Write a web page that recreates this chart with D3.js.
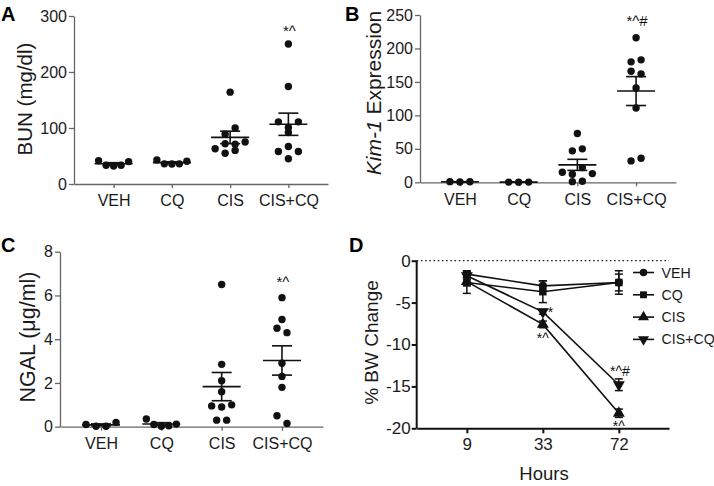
<!DOCTYPE html>
<html><head><meta charset="utf-8">
<script src="https://cdn.jsdelivr.net/npm/d3@7"></script>
<style>
body{margin:0;background:#fff}
svg{display:block}
text{font-family:"Liberation Sans",Arial,Helvetica,sans-serif}
</style>
</head><body>
<svg id="c" width="714" height="486"></svg>
<script>
// ---------- data ----------
const groups = ["VEH", "CQ", "CIS", "CIS+CQ"];

// A: BUN (mg/dl)
const bunVEH   = [41.6, 33.4, 32, 33.4, 40];
const bunCQ    = [43, 36, 35.7, 36, 40.5];
const bunCIS   = [164, 89, 100, 63, 72, 71, 75, 55, 60];
const bunCISCQ = [250, 174, 111, 101, 111, 92, 58, 67, 58, 45];
const bunTicks = [0, 100, 200, 300];

// B: Kim-1 expression
const kimVEH   = [1, 0.5, 0.8];
const kimCQ    = [0.3, 0.2, 0.3];
const kimCIS   = [73, 47, 50, 15, 12, 22, 13, 1, 1.5];
const kimCISCQ = [216, 180, 183, 166, 162, 141, 111, 32, 36];
const kimTicks = [0, 50, 100, 150, 200, 250];

// C: NGAL (µg/ml)
const ngalVEH   = [0.1, 0.02, 0.02, 0.2];
const ngalCQ    = [0.35, 0.1, 0.02, 0.04, 0.12];
const ngalCIS   = [6.5, 2.85, 2.1, 1.6, 0.95, 0.9, 1.0, 0.3, 0.3];
const ngalCISCQ = [5.9, 4.9, 4.5, 4.3, 2.9, 2.3, 1.8, 0.5, 0.15];
const ngalTicks = [0, 2, 4, 6, 8];

// D: % BW change over hours
const hours = ["9", "33", "72"];
const bwVEH      = [-1.6, -3.0, -2.6];
const bwVEHsem   = [0.4, 0.6, 1.0];
const bwCQ       = [-2.6, -3.7, -2.6];
const bwCQsem    = [1.3, 1.3, 1.4];
const bwCIS      = [-2.5, -7.6, -18.2];
const bwCISsem   = [0.5, 0.4, 0.5];
const bwCISCQ    = [-1.8, -6.1, -14.8];
const bwCISCQsem = [0.4, 0.3, 0.7];
const bwTicks = [0, -5, -10, -15, -20];

// ---------- drawing ----------
const FONT = '"Liberation Sans",Arial,Helvetica,sans-serif';
const svg = d3.select("#c");
const ink = "#111";

function swarm(values, y) {
  const items = values.map((v, i) => ({v, i, y: y(v)})).sort((a, b) => a.y - b.y);
  const rows = [];
  let cur = null;
  for (const it of items) {
    if (!cur || it.y - cur[0].y > 8) { cur = [it]; rows.push(cur); }
    else cur.push(it);
  }
  rows.forEach(r => {
    r.sort((a, b) => a.i - b.i);
    const k = r.length;
    const sp = k > 1 ? Math.min(10, 30 / (k - 1)) : 0;
    r.forEach((it, j) => it.dx = (j - (k - 1) / 2) * sp);
  });
  return items;
}

function styleAxis(g, color, width, fs) {
  g.attr("font-family", FONT).attr("font-size", fs).attr("color", color);
  g.selectAll("path.domain").attr("stroke-width", width);
  g.selectAll(".tick line").attr("stroke-width", width);
  g.selectAll(".tick text").attr("fill", "#1a1a1a");
}

function scatterPanel(o) {
  const g = svg.append("g");
  const x = d3.scalePoint().domain(groups).range([o.x0, o.x1]).padding(0.68);
  const y = d3.scaleLinear().domain([0, o.max]).range([o.yb, o.yt]);

  const ya = g.append("g").attr("transform", `translate(${o.x0},0)`)
    .call(d3.axisLeft(y).tickValues(o.ticks).tickSize(5).tickPadding(2).tickSizeOuter(0));
  styleAxis(ya, "#666", 1.3, 16);
  const xa = g.append("g").attr("transform", `translate(0,${o.yb})`)
    .call(d3.axisBottom(x).tickSize(4).tickPadding(7).tickSizeOuter(0));
  styleAxis(xa, "#666", 1.3, 16);

  o.series.forEach((vals, i) => {
    const cx = x(groups[i]);
    const pts = swarm(vals, y);
    g.append("g").selectAll("circle").data(pts).join("circle")
      .attr("cx", d => cx + d.dx).attr("cy", d => d.y).attr("r", 3.7).attr("fill", ink);
    const m = d3.mean(vals);
    const sem = d3.deviation(vals) / Math.sqrt(vals.length);
    const eg = g.append("g").attr("stroke", ink).attr("stroke-width", 1.6).attr("fill", "none");
    eg.append("line").attr("x1", cx - 19).attr("x2", cx + 19).attr("y1", y(m)).attr("y2", y(m));
    eg.append("line").attr("x1", cx).attr("x2", cx).attr("y1", y(m - sem)).attr("y2", y(m + sem));
    [m - sem, m + sem].forEach(v => eg.append("line")
      .attr("x1", cx - 10).attr("x2", cx + 10).attr("y1", y(v)).attr("y2", y(v)));
  });

  g.append("text").attr("x", x(groups[3]) + 1).attr("y", o.annY)
    .attr("text-anchor", "middle").attr("font-size", 15).attr("fill", ink).text(o.ann);

  const t = g.append("text").attr("transform", `translate(${o.tx},${o.ty}) rotate(-90)`)
    .attr("text-anchor", "middle").attr("font-size", o.tfs).attr("fill", "#1a1a1a");
  o.title(t);

  svg.append("text").attr("x", o.lx).attr("y", o.ly).attr("font-size", 20)
    .attr("font-weight", "bold").attr("fill", "#000").text(o.letter);
}

scatterPanel({
  x0: 74, x1: 328, yt: 16, yb: 184, max: 300, ticks: bunTicks,
  series: [bunVEH, bunCQ, bunCIS, bunCISCQ],
  ann: "*^", annY: 36,
  tx: 32, ty: 99, tfs: 20.5, title: t => t.text("BUN (mg/dl)"),
  letter: "A", lx: 1, ly: 21
});
scatterPanel({
  x0: 420, x1: 676, yt: 15, yb: 182.3, max: 250, ticks: kimTicks,
  series: [kimVEH, kimCQ, kimCIS, kimCISCQ],
  ann: "*^#", annY: 26,
  tx: 381, ty: 93, tfs: 21, title: t => {
    t.append("tspan").attr("font-style", "italic").text("Kim-1");
    t.append("tspan").text(" Expression");
  },
  letter: "B", lx: 345, ly: 21
});
scatterPanel({
  x0: 60, x1: 323, yt: 251.7, yb: 426.7, max: 8, ticks: ngalTicks,
  series: [ngalVEH, ngalCQ, ngalCIS, ngalCISCQ],
  ann: "*^", annY: 287,
  tx: 35, ty: 337, tfs: 21.5, title: t => t.text("NGAL (\u03bcg/ml)"),
  letter: "C", lx: 1, ly: 252
});

// ---------- panel D ----------
(function () {
  const g = svg.append("g");
  const x0 = 416.7, x1 = 669, yt = 260.7, yb = 428.3;
  const x = d3.scalePoint().domain(hours).range([x0, x1]).padding(0.66);
  const y = d3.scaleLinear().domain([-20, 0]).range([yb, yt]);

  g.append("line").attr("x1", x0).attr("x2", x1).attr("y1", y(0)).attr("y2", y(0))
    .attr("stroke", "#222").attr("stroke-width", 1.3).attr("stroke-dasharray", "1.6,2.6");

  const ya = g.append("g").attr("transform", `translate(${x0},0)`)
    .call(d3.axisLeft(y).tickValues(bwTicks).tickFormat(d => String(d)).tickSize(5).tickPadding(1).tickSizeOuter(0));
  styleAxis(ya, "#111", 2, 17);
  ya.select("path.domain").attr("d", `M0,${y(0)}V${yb}`);
  const xa = g.append("g").attr("transform", `translate(0,${yb})`)
    .call(d3.axisBottom(x).tickSize(5).tickPadding(5).tickSizeOuter(0));
  styleAxis(xa, "#111", 2, 17);

  const series = [
    {name: "VEH", v: bwVEH, s: bwVEHsem, sym: d3.symbolCircle, size: 52, rot: 0},
    {name: "CQ", v: bwCQ, s: bwCQsem, sym: d3.symbolSquare, size: 56, rot: 0},
    {name: "CIS", v: bwCIS, s: bwCISsem, sym: d3.symbolTriangle, size: 62, rot: 0},
    {name: "CIS+CQ", v: bwCISCQ, s: bwCISCQsem, sym: d3.symbolTriangle, size: 62, rot: 180}
  ];
  const line = d3.line().x((d, i) => x(hours[i])).y(d => y(d));

  series.forEach(se => {
    const eg = g.append("g").attr("stroke", ink).attr("stroke-width", 1.5);
    se.v.forEach((v, i) => {
      const cx = x(hours[i]);
      eg.append("line").attr("x1", cx).attr("x2", cx).attr("y1", y(v - se.s[i])).attr("y2", y(v + se.s[i]));
      [v - se.s[i], v + se.s[i]].forEach(w => eg.append("line")
        .attr("x1", cx - 4).attr("x2", cx + 4).attr("y1", y(w)).attr("y2", y(w)));
    });
  });
  series.forEach(se => {
    g.append("path").datum(se.v).attr("d", line).attr("fill", "none")
      .attr("stroke", ink).attr("stroke-width", 1.6);
  });
  series.forEach(se => {
    g.append("g").selectAll("path").data(se.v).join("path")
      .attr("d", d3.symbol().type(se.sym).size(se.size))
      .attr("transform", (d, i) => `translate(${x(hours[i])},${y(d)}) rotate(${se.rot})`)
      .attr("fill", ink);
  });

  // significance marks
  const marks = [
    {t: "*", x: x("33") + 5, y: 317, a: "start"},
    {t: "*^", x: x("33"), y: 343, a: "middle"},
    {t: "*^#", x: x("72") + 1, y: 376, a: "middle"},
    {t: "*^", x: x("72"), y: 431, a: "middle"}
  ];
  marks.forEach(m => g.append("text").attr("x", m.x).attr("y", m.y).attr("text-anchor", m.a)
    .attr("font-size", 14).attr("fill", ink).text(m.t));

  // legend
  const lg = g.append("g");
  series.forEach((se, i) => {
    const cy = 272.5 + i * 22.3;
    lg.append("line").attr("x1", 633).attr("x2", 654).attr("y1", cy).attr("y2", cy)
      .attr("stroke", ink).attr("stroke-width", 1.6);
    lg.append("path").attr("d", d3.symbol().type(se.sym).size(se.size * 0.85))
      .attr("transform", `translate(643.5,${cy}) rotate(${se.rot})`).attr("fill", ink);
    lg.append("text").attr("x", 661.5).attr("y", cy + 5).attr("font-size", 14.2)
      .attr("fill", "#1a1a1a").text(se.name);
  });

  g.append("text").attr("x", 544).attr("y", 480).attr("text-anchor", "middle")
    .attr("font-size", 18.5).attr("fill", "#1a1a1a").text("Hours");
  g.append("text").attr("transform", "translate(378,342.5) rotate(-90)")
    .attr("text-anchor", "middle").attr("font-size", 19).attr("fill", "#1a1a1a").text("% BW Change");
  svg.append("text").attr("x", 349).attr("y", 252).attr("font-size", 20)
    .attr("font-weight", "bold").attr("fill", "#000").text("D");
})();
</script>
</body></html>
